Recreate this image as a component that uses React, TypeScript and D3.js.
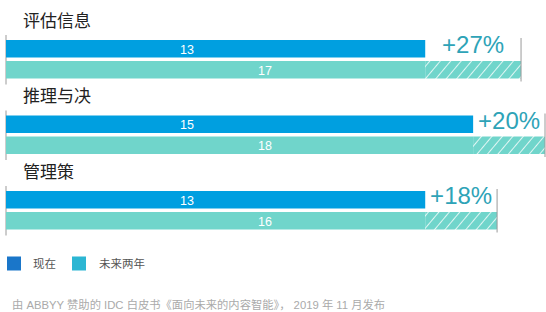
import React from 'react';
import * as d3 from 'd3';

const categories = ['评估信息', '推理与决', '管理策'];
const current = [13, 15, 13];
const future = [17, 18, 16];
const growth = ['+27%', '+20%', '+18%'];
const legendLabels = ['现在', '未来两年'];
const footnote = '由 ABBYY 赞助的 IDC 白皮书《面向未来的内容智能》， 2019 年 11 月发布';

const width = 546;
const height = 312;
const FONT = '"Noto Sans CJK SC", "Noto Sans", sans-serif';
const LATIN = '"Liberation Sans", Arial, "Noto Sans CJK SC", sans-serif';

export default function App() {
  // infographic is not to scale, so the domain starts below zero to fit the picture
  const x = d3.scaleLinear().domain([-4.5, 18]).range([6, 545]);
  const y = d3.scaleBand<string>().domain(categories).range([40, 266.5]);

  const barH = 17.5;
  const gap = 3.5;

  return (
    <svg width={width} height={height} style={{position: 'absolute', left: 0, top: 0}} fontFamily={FONT}>
      <defs>
        <pattern id="hatch" patternUnits="userSpaceOnUse" width={8} height={8} patternTransform="rotate(40)">
          <rect width={8} height={8} fill="#70d5cb" />
          <line x1={0} y1={0} x2={0} y2={8} stroke="#ffffff" strokeWidth={1.6} />
        </pattern>
      </defs>
      {categories.map((c, i) => {
        const top = y(c)!;
        const x0 = x.range()[0];
        const xc = x(current[i]);
        const xf = x(future[i]);
        return (
          <g key={c}>
            <text x={23} y={top - 21} fontSize={17} fill="#222" dominantBaseline="central">{c}</text>
            <line x1={x0} x2={x0} y1={top - 5} y2={top + barH * 2 + gap + 6} stroke="#9a9a9a" strokeWidth={1} />
            <rect x={x0} y={top} width={xc - x0} height={barH} fill="#009fe0" />
            <rect x={x0} y={top + barH + gap} width={xc - x0} height={barH} fill="#70d5cb" />
            <rect x={xc} y={top + barH + gap} width={xf - xc} height={barH} fill="url(#hatch)" />
            <line x1={xf} x2={xf} y1={top - 2} y2={top + barH * 2 + gap + 3} stroke="#9a9a9a" strokeWidth={1} />
            <text x={187} y={top + barH / 2 + 1} fontSize={12.5} fill="#fff" textAnchor="middle" dominantBaseline="central" fontFamily={LATIN}>{current[i]}</text>
            <text x={265} y={top + barH + gap + barH / 2 + 1} fontSize={12.5} fill="#fff" textAnchor="middle" dominantBaseline="central" fontFamily={LATIN}>{future[i]}</text>
            <text x={(xc + xf) / 2} y={top + 13} fontSize={24} fill="#2ea3b7" textAnchor="middle" fontFamily={LATIN}>{growth[i]}</text>
          </g>
        );
      })}
      <g>
        <rect x={7} y={256.5} width={14} height={14} fill="#1a76c9" />
        <text x={33} y={262.5} fontSize={11.5} fill="#555" dominantBaseline="central">{legendLabels[0]}</text>
        <rect x={72} y={256.5} width={14} height={14} fill="#2cb6d3" />
        <text x={99} y={262.5} fontSize={11.5} fill="#555" dominantBaseline="central">{legendLabels[1]}</text>
      </g>
      <text x={12} y={305} fontSize={11.3} fill="#aaa" dominantBaseline="central" fontFamily={LATIN}>{footnote}</text>
    </svg>
  );
}
